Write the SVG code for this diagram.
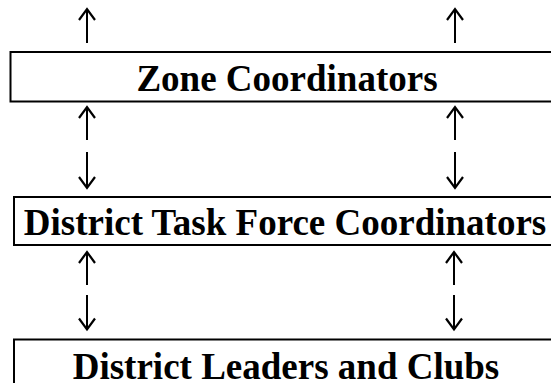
<svg xmlns="http://www.w3.org/2000/svg" width="551" height="383" viewBox="0 0 551 383">
  <style>
    .box { fill: #ffffff; stroke: #000000; stroke-width: 2; }
    .label { font-family: "Liberation Serif", "Times New Roman", serif; font-weight: bold; font-size: 37px; fill: #000000; text-anchor: middle; }
    .arrow { fill: none; stroke: #000000; stroke-width: 2; marker-end: url(#head); }
  </style>
  <defs>
    <marker id="head" markerUnits="userSpaceOnUse" orient="auto" refX="0" refY="0" overflow="visible">
      <path d="M -11,-8 L 0,0 L -11,8" fill="none" stroke="#000000" stroke-width="2.2" stroke-linejoin="miter" stroke-linecap="butt"/>
    </marker>
  </defs>
  <rect width="551" height="383" fill="#ffffff"/>

  <g id="zone-coordinators">
    <rect class="box" x="10.5" y="52" width="560" height="49.5"/>
    <text class="label" x="287" y="90.5">Zone Coordinators</text>
  </g>

  <g id="district-task-force-coordinators">
    <rect class="box" x="14" y="197" width="560" height="48"/>
    <text class="label" x="285" y="235">District Task Force Coordinators</text>
  </g>

  <g id="district-leaders-and-clubs">
    <rect class="box" x="14" y="339.5" width="560" height="60"/>
    <text class="label" x="286" y="378.5">District Leaders and Clubs</text>
  </g>

  <g id="connectors">
    <path class="arrow" d="M 87,43 L 87,9"/>
    <path class="arrow" d="M 455,43 L 455,9"/>

    <path class="arrow" d="M 87,140 L 87,107"/>
    <path class="arrow" d="M 87,152 L 87,188"/>
    <path class="arrow" d="M 455,140 L 455,107"/>
    <path class="arrow" d="M 455,152 L 455,188"/>

    <path class="arrow" d="M 87,285 L 87,252"/>
    <path class="arrow" d="M 87,295 L 87,329.5"/>
    <path class="arrow" d="M 454,285 L 454,252"/>
    <path class="arrow" d="M 454,295 L 454,329.5"/>
  </g>
</svg>
